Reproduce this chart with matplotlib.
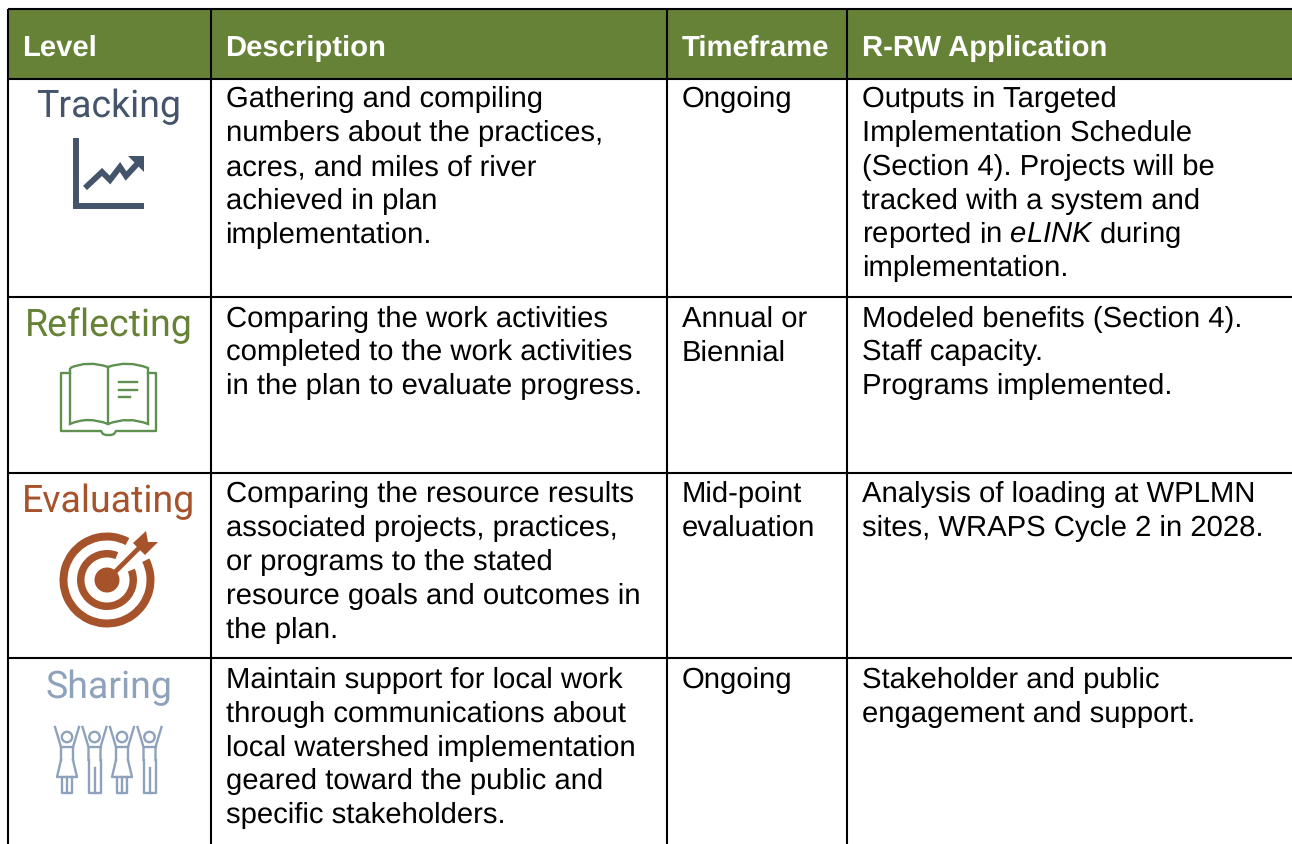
import matplotlib
matplotlib.use("Agg")
import matplotlib.pyplot as plt
from matplotlib.patches import Rectangle, Circle, Wedge, Polygon, PathPatch
from matplotlib.path import Path

plt.rcParams['font.family'] = ['Liberation Sans', 'DejaVu Sans']
plt.rcParams['text.hinting'] = 'none'
plt.rcParams['mathtext.fontset'] = 'custom'
plt.rcParams['mathtext.it'] = 'Liberation Sans:italic'
plt.rcParams['mathtext.rm'] = 'Liberation Sans'

headers = ["Level", "Description", "Timeframe", "R-RW Application"]
levels = ["Tracking", "Reflecting", "Evaluating", "Sharing"]
level_colors = ["#44546A", "#668237", "#A6532B", "#8EA2BC"]
book_color = "#5E9150"

descriptions = [
    ["Gathering and compiling", "numbers about the practices,", "acres, and miles of river",
     "achieved in plan", "implementation."],
    ["Comparing the work activities", "completed to the work activities",
     "in the plan to evaluate progress."],
    ["Comparing the resource results", "associated projects, practices,", "or programs to the stated",
     "resource goals and outcomes in", "the plan."],
    ["Maintain support for local work", "through communications about", "local watershed implementation",
     "geared toward the public and", "specific stakeholders."],
]
timeframes = [["Ongoing"], ["Annual or", "Biennial"], ["Mid-point", "evaluation"], ["Ongoing"]]
applications = [
    ["Outputs in Targeted", "Implementation Schedule", "(Section 4). Projects will be",
     "tracked with a system and", "reported in $\\mathit{eLINK}$ during", "implementation."],
    ["Modeled benefits (Section 4).", "Staff capacity.", "Programs implemented."],
    ["Analysis of loading at WPLMN", "sites, WRAPS Cycle 2 in 2028."],
    ["Stakeholder and public", "engagement and support."],
]

col_lines = [8, 211, 667, 847]
row_lines = [9, 79, 297, 473, 658]
row_baselines = [107.3, 326.6, 502.3, 688]
header_x = [22.5, 225.5, 681.7, 861.7]
W, H = 1292, 844
FS = 21.05
LEAD = 33.8

fig = plt.figure(figsize=(W / 100, H / 100), dpi=100)
ax = fig.add_axes([0, 0, 1, 1])
ax.set_xlim(0, W)
ax.set_ylim(H, 0)
ax.axis('off')

# header band
ax.add_patch(Rectangle((8, 9), 1284, 70, fc="#668237", ec="none", zorder=1))

# grid
for x in col_lines:
    ax.plot([x, x], [9, H], color="black", lw=1.5, zorder=3, solid_capstyle='butt')
for y in row_lines:
    ax.plot([8, W], [y, y], color="black", lw=1.5, zorder=3, solid_capstyle='butt')

for x, t in zip(header_x, headers):
    ax.text(x, 56, t, color="white", fontsize=FS, fontweight='bold', va='baseline', ha='left', zorder=4)

# body text
for r in range(4):
    for lines, x in zip([descriptions[r], timeframes[r], applications[r]], header_x[1:]):
        for i, line in enumerate(lines):
            ax.text(x, row_baselines[r] + i * LEAD, line, color="black", fontsize=FS, va='baseline', ha='left')

# level labels
level_y = [117, 336, 512, 698]
for name, color, y in zip(levels, level_colors, level_y):
    ax.text(109, y, name, color=color, fontsize=27, family=['Roboto', 'DejaVu Sans'], va='baseline', ha='center')

# tracking icon
c = level_colors[0]
ax.plot([76, 76, 144], [138, 206, 206], color=c, lw=4.3, solid_joinstyle='miter', solid_capstyle='butt')
ax.plot([85, 102, 110, 120, 126, 138], [188, 172, 180, 167, 176, 163], color=c, lw=4.2,
        solid_joinstyle='miter', solid_capstyle='butt')
ax.add_patch(Polygon([[128, 156], [144, 156], [144, 172]], fc=c, ec='none'))

# reflecting icon
c = book_color
lw = 1.7
ax.plot([70, 61, 61, 101, 103, 106, 111, 114, 116, 156, 156, 148],
        [373, 373, 431, 431, 434, 435, 435, 434, 431, 431, 373, 373], color=c, lw=lw)
page = Path([(70, 368), (88, 360), (108, 367), (128, 360), (148, 368), (148, 424),
             (128, 416), (108, 424), (88, 416), (70, 424), (70, 368)],
            [Path.MOVETO, Path.CURVE3, Path.CURVE3, Path.CURVE3, Path.CURVE3, Path.LINETO,
             Path.CURVE3, Path.CURVE3, Path.CURVE3, Path.CURVE3, Path.LINETO])
ax.add_patch(PathPatch(page, fc='none', ec=c, lw=lw))
ax.plot([108, 108], [367, 424], color=c, lw=lw)
for y, x1 in zip([382, 390, 397], [137, 137, 130]):
    ax.plot([119, x1], [y, y], color=c, lw=lw)

# evaluating icon
c = level_colors[2]
cx, cy = 107, 580
ax.add_patch(Wedge((cx, cy), 47.5, -27, 298, width=8, fc=c, ec='none'))
ax.add_patch(Wedge((cx, cy), 30, -22, 292, width=7.5, fc=c, ec='none'))
ax.add_patch(Circle((cx, cy), 12.5, fc=c, ec='none'))
ax.plot([cx, 138], [cy, 549], color=c, lw=3.4)
ax.add_patch(Polygon([[133, 543], [146, 531], [148, 542], [158, 542], [145, 555]], fc=c, ec='none'))

# sharing icon
c = level_colors[3]
lw = 1.7
for i, dress in enumerate([True, False, True, False]):
    x = 67 + i * 27.5
    ax.add_patch(Circle((x, 737), 5.2, fc='none', ec=c, lw=lw))
    ax.plot([x - 12, x - 6, x - 6], [727, 747, 760], color=c, lw=lw)
    ax.plot([x + 12, x + 6, x + 6], [727, 747, 760], color=c, lw=lw)
    ax.plot([x - 6, x + 6], [747, 747], color=c, lw=lw)
    if dress:
        ax.plot([x - 6, x - 10, x + 10, x + 6], [760, 777, 777, 760], color=c, lw=lw)
        ax.plot([x - 5, x - 5, x + 5, x + 5], [777, 793, 793, 777], color=c, lw=lw)
        ax.plot([x, x], [777, 793], color=c, lw=lw)
    else:
        ax.plot([x - 6, x - 6, x + 6, x + 6], [760, 793, 793, 760], color=c, lw=lw)
        ax.plot([x, x], [768, 793], color=c, lw=lw)

fig.savefig("out.png", dpi=100, facecolor="white")
